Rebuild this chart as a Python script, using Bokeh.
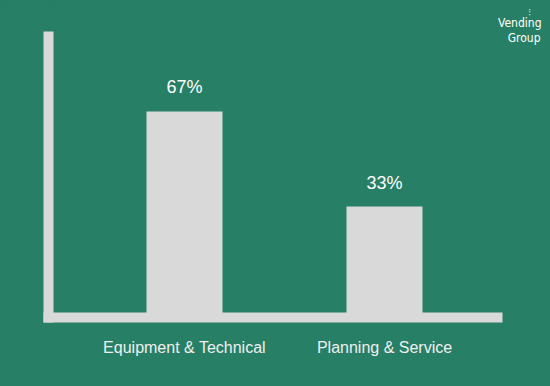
from bokeh.plotting import figure
from bokeh.models import Range1d, FixedTicker, Label, ColumnDataSource
from bokeh.core.properties import value
from bokeh.embed import file_html
from bokeh.resources import INLINE

categories = ["Equipment & Technical", "Planning & Service"]
shares = [67, 33]
share_labels = ["67%", "33%"]

BG = "#277F66"
BAR = "#D9D9D9"

positions = list(range(len(categories)))
y_start = -6.7
y_axis_top = 93.8
x_start = -0.68
x_axis_end = 1.565
src = ColumnDataSource(dict(x=positions, top=shares, bottom=[y_start] * len(shares), label=share_labels))

p = figure(width=550, height=386, output_backend="svg", toolbar_location=None,
           x_range=Range1d(x_start, 1.83), y_range=Range1d(y_start, 106.7),
           min_border_left=48, min_border_right=0, min_border_top=0, min_border_bottom=69)
p.background_fill_color = BG
p.border_fill_color = BG
p.outline_line_color = None
p.grid.visible = False

p.vbar(x="x", top="top", bottom="bottom", width=0.38, source=src, fill_color=BAR, line_color=None)
p.text(x="x", y="top", text="label", source=src, text_align="center", text_baseline="alphabetic",
       y_offset=-24, text_color="white", text_font=value("Liberation Sans"), text_font_size="18px")

for ax in (p.xaxis[0], p.yaxis[0]):
    ax.axis_line_color = BAR
    ax.axis_line_width = 10
    ax.axis_line_cap = "square"
    ax.major_tick_line_color = None
    ax.minor_tick_line_color = None

p.yaxis.bounds = (y_start, y_axis_top)
p.xaxis.bounds = (x_start, x_axis_end)
p.yaxis.ticker = FixedTicker(ticks=[])
p.xaxis.ticker = FixedTicker(ticks=positions)
p.xaxis.major_label_overrides = {i: c for i, c in enumerate(categories)}
p.xaxis.major_label_text_font = "Liberation Sans"
p.xaxis.major_label_text_font_size = "16px"
p.xaxis.major_label_text_color = "#F0F0F0"
p.xaxis.major_label_standoff = 15

p.add_layout(Label(x=493, y=295, x_units="screen", y_units="screen", text="Vending",
                   text_align="right", text_baseline="alphabetic", text_color="white",
                   text_font="DejaVu Sans Condensed", text_font_size="12px"))
p.add_layout(Label(x=492, y=280, x_units="screen", y_units="screen", text="Group",
                   text_align="right", text_baseline="alphabetic", text_color="white",
                   text_font="DejaVu Sans Condensed", text_font_size="12px"))
p.add_layout(Label(x=481, y=305, x_units="screen", y_units="screen", text="⁝",
                   text_align="center", text_baseline="alphabetic", text_color="#BFE3D6",
                   text_font="DejaVu Sans", text_font_size="10px"))

template = "{% block preamble %}<style>html,body{background:#277F66;}</style>{% endblock %}"
open("out.html", "w").write(file_html(p, INLINE, template=template))
